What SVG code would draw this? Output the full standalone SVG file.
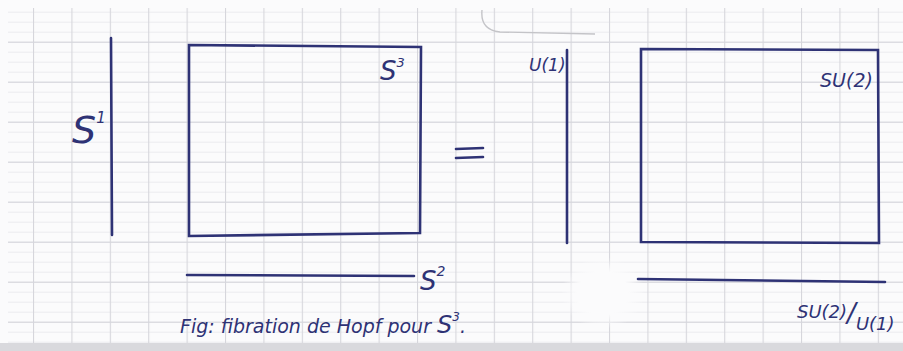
<svg xmlns="http://www.w3.org/2000/svg" width="903" height="351" viewBox="0 0 903 351">
<defs>
<pattern id="minor" x="0" y="1.7" width="38.4" height="10" patternUnits="userSpaceOnUse">
<line x1="0" y1="0.5" x2="38.4" y2="0.5" stroke="#ebebef" stroke-width="1"/>
</pattern>
<pattern id="major" x="33" y="1.7" width="38.4" height="40" patternUnits="userSpaceOnUse">
<line x1="0" y1="0.5" x2="38.4" y2="0.5" stroke="#d3d4da" stroke-width="1.2"/>
<line x1="0.5" y1="0" x2="0.5" y2="40" stroke="#d6d6dc" stroke-width="1.2"/>
</pattern>
<radialGradient id="blob">
<stop offset="0.6" stop-color="#fbfbfc" stop-opacity="1"/>
<stop offset="1" stop-color="#fbfbfc" stop-opacity="0"/>
</radialGradient>
<style>
.ink{stroke:#2e3275;stroke-width:2.6;fill:none;stroke-linecap:round}
.t{fill:#2e3275;font-family:"DejaVu Sans","Liberation Sans",sans-serif;font-style:italic}
</style>
</defs>
<rect width="903" height="351" fill="#fbfbfc"/>
<rect x="8" y="8" width="895" height="336" fill="url(#minor)"/>
<rect x="8" y="8" width="895" height="336" fill="url(#major)"/>
<ellipse cx="603" cy="293" rx="42" ry="36" fill="url(#blob)"/>
<rect x="0" y="343" width="903" height="8" fill="#d9d9dd"/>
<path d="M482 10 Q480 30 500 32 L595 34" stroke="#c4c4c8" stroke-width="1.4" fill="none"/>

<g id="connectors">
<line class="ink" x1="111" y1="38" x2="112" y2="235"/>
<line class="ink" x1="187" y1="275" x2="414" y2="276"/>
<line class="ink" x1="567" y1="50" x2="567" y2="243"/>
<line class="ink" x1="638" y1="279" x2="885" y2="282"/>
</g>

<g id="S3-box">
<path class="ink" d="M189 45 L421 47 L420 233 L189 236 Z"/>
<text class="t" x="380" y="80" font-size="26">S<tspan font-size="13" dy="-13">3</tspan></text>
</g>
<g id="S1-label">
<text class="t" x="72" y="143" font-size="38">S<tspan font-size="15" dy="-20">1</tspan></text>
</g>
<g id="S2-label">
<text class="t" x="420" y="290" font-size="26">S<tspan font-size="14" dy="-14">2</tspan></text>
</g>
<g id="equals">
<line class="ink" x1="456" y1="149" x2="483" y2="148"/>
<line class="ink" x1="456" y1="158" x2="483" y2="157"/>
</g>
<g id="U1-label">
<text class="t" x="529" y="71" font-size="17">U(1)</text>
</g>
<g id="SU2-box">
<path class="ink" d="M641 49 L878 50 L879 243 L641 242 Z"/>
<text class="t" x="820" y="87" font-size="19">SU(2)</text>
</g>
<g id="quotient-label">
<text class="t" x="797" y="318" font-size="18">SU(2)<tspan font-size="26" dy="4">/</tspan><tspan dy="8">U(1)</tspan></text>
</g>
<g id="caption">
<text class="t" x="180" y="333" font-size="19">Fig: fibration de Hopf pour <tspan font-size="24">S</tspan><tspan font-size="12" dy="-12">3</tspan><tspan dy="12">.</tspan></text>
</g>
</svg>
